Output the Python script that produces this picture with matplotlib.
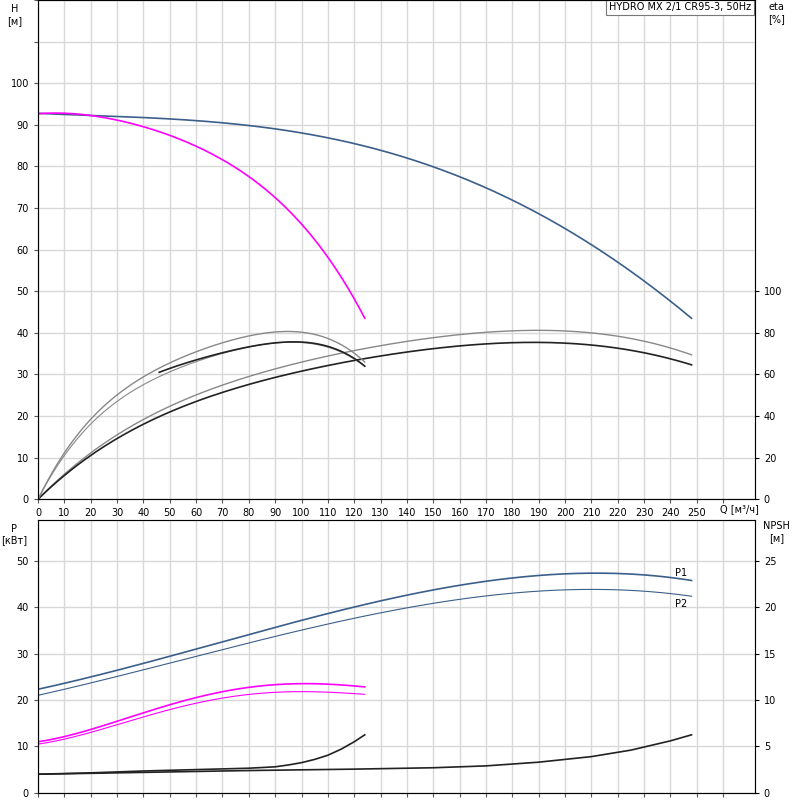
import numpy as np
import matplotlib
matplotlib.use("Agg")
import matplotlib.pyplot as plt

# Data (H, eta in H-units, P, NPSH in P-units)
q_big = [0, 25, 50, 100, 150, 200, 248]
h_big = [92.7, 92.3, 91.3, 88.0, 80.0, 65.0, 43.5]
q_small = [0, 25, 50, 75, 95, 110, 124]
h_small = [92.7, 91.5, 88.0, 79.0, 70.0, 58.0, 43.5]

q_eb = [0, 20, 50, 95, 130, 160, 185, 220, 248]
eta_big_blk = [0, 10.5, 21, 30, 34.5, 36.8, 37.7, 36.3, 32.3]
eta_big_gry = [0, 11, 22.5, 32, 37, 39.6, 40.5, 39.2, 34.7]
q_es = [0, 10, 25, 46, 70, 95, 110, 124]
eta_small_thin = [0, 10.5, 21, 29.5, 35, 37.8, 36.5, 32]
eta_small_gry = [0, 11, 22.5, 31.5, 37.5, 40.5, 38.5, 33]
q_esb = [46, 60, 70, 80, 95, 105, 115, 124]
eta_small_blk = [30.5, 33.5, 35.2, 36.6, 37.8, 37.5, 35.5, 32]

q_p = [0, 50, 100, 130, 170, 205, 230, 248]
p1_big = [22.3, 29.5, 37.0, 41.5, 45.6, 47.3, 46.9, 45.8]
p2_big = [21.0, 28.0, 35.0, 38.8, 42.5, 43.8, 43.4, 42.4]
q_ps = [0, 25, 50, 75, 100, 115, 124]
p1_small = [11.0, 14.5, 19.0, 22.3, 23.5, 23.3, 22.8]
p2_small = [10.5, 13.8, 18.0, 20.8, 21.8, 21.6, 21.2]
q_n = [0, 20, 40, 60, 80, 90, 95, 100, 105, 110, 115, 120, 124]
npsh_small = [4.0, 4.3, 4.7, 5.0, 5.3, 5.6, 6.0, 6.5, 7.2, 8.1, 9.4, 11.0, 12.5]
q_nb = [0, 40, 80, 120, 150, 170, 190, 210, 225, 240, 248]
npsh_big = [4.0, 4.4, 4.8, 5.1, 5.4, 5.8, 6.6, 7.8, 9.2, 11.2, 12.5]

BLUE = "#3a5f8a"; MAG = "#ff00ff"; GRY = "#888888"; BLK = "#222222"

def smooth(q, v, deg=4):
    q = np.asarray(q, float); v = np.asarray(v, float)
    c = np.polyfit(q, v, min(deg, len(q) - 1))
    x = np.linspace(q[0], q[-1], 200)
    return x, np.polyval(c, x)

fig = plt.figure(figsize=(8, 8), dpi=100)
ax1 = fig.add_axes([0.0475, 0.376, 0.896, 0.624])
ax2 = fig.add_axes([0.0475, 0.009, 0.896, 0.341])

for ax in (ax1, ax2):
    ax.set_xlim(0, 272)
    ax.set_xticks(np.arange(0, 270, 10))
    ax.grid(True, color="#d8d8d8", lw=1)
    ax.tick_params(labelsize=7, length=3, color="#555")
    for s in ax.spines.values():
        s.set_color("#777")

ax1.set_ylim(0, 120)
ax1.set_yticks(np.arange(0, 121, 10))
ax1.set_yticklabels([str(v) if v <= 100 else "" for v in range(0, 121, 10)])
ax1.set_xticklabels([str(v) for v in range(0, 260, 10)] + [""])
ax1.text(266, -1.2, "Q [м³/ч]", fontsize=7, va="top", ha="center")
ax1.text(-9, 119, "H\n[м]", fontsize=7, va="top", ha="center")
ax1r = ax1.twinx()
ax1r.set_ylim(0, 240)
ax1r.set_yticks(np.arange(0, 101, 20))
ax1r.tick_params(labelsize=7, length=3)
ax1r.text(1.03, 0.995, "eta\n[%]", transform=ax1.transAxes, fontsize=7, va="top", ha="center")
ax1.text(0.995, 0.995, "HYDRO MX 2/1 CR95-3, 50Hz", transform=ax1.transAxes, fontsize=7,
         ha="right", va="top", bbox=dict(fc="white", ec="#777", lw=0.8, pad=2))

ax1.plot(*smooth(q_big, h_big), color=BLUE, lw=1.2)
ax1.plot(*smooth(q_small, h_small), color=MAG, lw=1.2)
ax1.plot(*smooth(q_eb, eta_big_gry, 5), color=GRY, lw=1)
ax1.plot(*smooth(q_eb, eta_big_blk, 5), color=BLK, lw=1.2)
ax1.plot(*smooth(q_es, eta_small_gry, 5), color=GRY, lw=1)
ax1.plot(*smooth(q_es, eta_small_thin, 5), color=GRY, lw=0.8)
ax1.plot(*smooth(q_esb, eta_small_blk, 4), color=BLK, lw=1.2)

ax2.set_ylim(0, 58.8)
ax2.set_yticks(np.arange(0, 51, 10))
ax2.set_xticklabels([])
ax2.text(-9, 58, "P\n[кВт]", fontsize=7, va="top", ha="center")
ax2r = ax2.twinx()
ax2r.set_ylim(0, 29.4)
ax2r.set_yticks(np.arange(0, 26, 5))
ax2r.tick_params(labelsize=7, length=3)
ax2r.text(1.03, 0.995, "NPSH\n[м]", transform=ax2.transAxes, fontsize=7, va="top", ha="center")

ax2.plot(*smooth(q_p, p1_big), color=BLUE, lw=1.2)
ax2.plot(*smooth(q_p, p2_big), color=BLUE, lw=0.8)
ax2.plot(*smooth(q_ps, p1_small), color=MAG, lw=1.2)
ax2.plot(*smooth(q_ps, p2_small), color=MAG, lw=0.8)
ax2.plot(q_n, npsh_small, color=BLK, lw=1.2)
ax2.plot(q_nb, npsh_big, color=BLK, lw=1.2)
ax2.text(244, 46.3, "P1", fontsize=7, ha="center", va="bottom")
ax2.text(244, 41.8, "P2", fontsize=7, ha="center", va="top")

fig.savefig("out.png", dpi=100)
